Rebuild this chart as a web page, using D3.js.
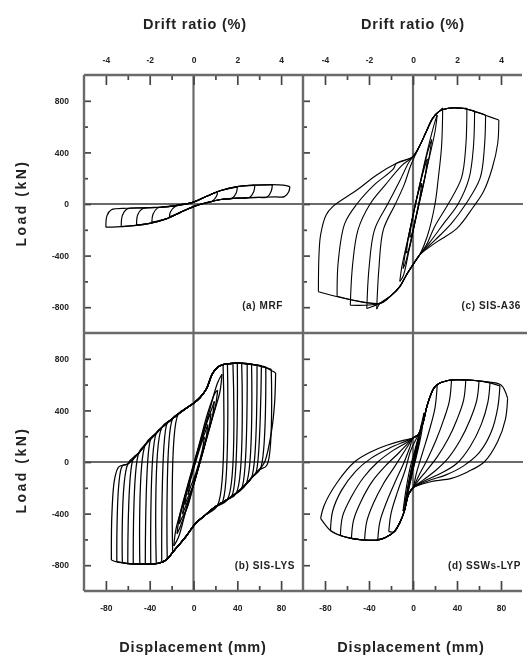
<!DOCTYPE html>
<html>
<head>
<meta charset="utf-8">
<script src="https://cdn.jsdelivr.net/npm/d3@7"></script>
<style>
  body { margin: 0; background: #fff; }
  svg { display: block; font-family: "Liberation Sans", Arial, sans-serif; }
</style>
</head>
<body>
<svg id="chart" width="527" height="655"></svg>
<script>
// Tick values
const driftTicks = [-4, -2, 0, 2, 4];
const driftMinor = [-3, -1, 1, 3];
const dispTicks = [-80, -40, 0, 40, 80];
const dispMinor = [-60, -20, 20, 60];
const loadTicks = [-800, -400, 0, 400, 800];
const loadMinor = [-600, -200, 200, 600];

// Each cycle: negative peak, own reloading points, positive peak, own unloading points.
// Branches then follow the shared envelope (where the cycles overlap). Displacement mm, load kN.

// (a) MRF
const mrfPeakNeg = [[-22, -100], [-38, -140], [-52, -162], [-66, -175], [-80, -180]];
const mrfPeakPos = [[22, 95], [40, 130], [56, 145], [72, 148], [88, 135]];
const mrfReload = [[[-21, -60], [-17, -22]], [[-37, -80], [-33, -32]], [[-51, -85], [-47, -38]],
                   [[-65, -90], [-61, -40]], [[-79, -90], [-75, -45]]];
const mrfUnload = [[[21, 60], [17, 22]], [[39, 85], [35, 43]], [[55, 95], [51, 50]],
                   [[71, 100], [67, 52]], [[87, 95], [83, 57]]];
const mrfUpperEnv = [[-60, -33], [-45, -30], [-30, -25], [-15, -10], [0, 15], [12, 60], [25, 105],
                     [40, 135], [55, 146], [72, 150], [82, 146]];
const mrfLowerEnv = [[75, 55], [60, 52], [40, 45], [25, 35], [12, 10], [0, -20], [-12, -65],
                     [-25, -115], [-40, -150], [-55, -168], [-70, -178]];

// (c) SIS-A36
const a36PeakNeg = [[-3, -260], [-6, -380], [-9, -500], [-12, -600], [-33, -815], [-42, -810],
                    [-57, -785], [-69, -715], [-86, -680]];
const a36PeakPos = [[8, 160], [13, 350], [17, 500], [22, 690], [27, 745], [49, 742],
                    [56, 720], [66, 690], [78, 651]];
const a36Reload = [
  [[-1, -130], [3, 30], [6, 120]],
  [[-4, -250], [1, -50], [6, 140], [11, 300]],
  [[-7, -380], [-1, -130], [6, 140], [12, 360], [15, 450]],
  [[-10, -480], [-3, -210], [5, 110], [13, 410], [19, 610]],
  [[-31, -500], [-27, -200], [-16, 0], [-8, 150], [-2, 300]],
  [[-40, -500], [-35, -200], [-23, 0], [-12, 180], [-4, 320]],
  [[-55, -480], [-50, -200], [-39, 0], [-25, 150], [-10, 300]],
  [[-68, -450], [-62, -150], [-51, 0], [-35, 150], [-18, 270]],
  [[-85.5, -400], [-84, -240], [-79, -85], [-73, -20]]
];
const a36Unload = [
  [[6, 40], [2, -120], [-1, -230]],
  [[11, 210], [6, 20], [1, -170], [-4, -360]],
  [[15, 380], [10, 180], [2, -130], [-4, -360], [-7, -460]],
  [[20, 560], [14, 330], [6, 20], [-2, -290], [-9, -560]],
  [[26, 450], [23, 200], [20, 0], [13, -250]],
  [[48, 450], [44, 200], [32, 0], [20, -170], [12, -320]],
  [[55, 450], [51, 200], [41, 0], [28, -150], [15, -300]],
  [[65, 450], [61, 200], [48, 0], [35, -150], [20, -280]],
  [[77, 469], [72, 277], [64, 95], [55, -21], [40, -189], [22, -292]]
];
const a36UpperEnv = [[-51, 108], [-33, 225], [-15, 315], [0, 367], [6, 450], [12, 560], [18, 666],
                     [24, 720], [32, 742], [45, 742], [55, 720], [65, 690]];
const a36LowerEnv = [[6, -395], [0, -470], [-6, -550], [-12, -640], [-20, -710], [-30, -770]];

// (b) SIS-LYS
const lysPeakNeg = [[-5, -255], [-8, -330], [-10, -405], [-13, -480], [-15, -555], [-18, -650],
                    [-19, -700], [-24, -750], [-29, -780], [-34, -790], [-39, -792], [-44, -792],
                    [-49, -790], [-55, -788], [-60, -785], [-65, -780], [-70, -772], [-75, -760]];
const lysPeakPos = [[10, 195], [13, 290], [16, 375], [19, 470], [22, 555], [26, 680],
                    [27, 752], [31, 760], [36, 765], [40, 767], [44, 766], [49, 764],
                    [53, 760], [58, 755], [62, 748], [66, 738], [71, 718], [75, 690]];
const lysReload = [
  [[-3, -150], [3, 30], [8, 160]],
  [[-6, -230], [0, -50], [6, 130], [11, 240]],
  [[-8, -290], [0, -40], [8, 210], [14, 350]],
  [[-11, -370], [-4, -150], [5, 120], [12, 300], [17, 420]],
  [[-13, -430], [-5, -170], [5, 130], [13, 380], [20, 540]],
  [[-16, -520], [-8, -280], [4, 75], [14, 380], [22, 615]],
  [[-14, 370]], [[-19, 337]], [[-24, 302]], [[-29, 266]], [[-34, 222]], [[-39, 180]],
  [[-44, 135]], [[-50, 70]], [[-55, 28]], [[-60, -15]], [[-65, -30]],
  [[-74.5, -400], [-72, -130], [-68, -36]]
];
const lysUnload = [
  [[8, 90], [2, -90], [-3, -200]],
  [[11, 160], [5, -30], [-1, -200], [-6, -290]],
  [[14, 260], [6, 0], [-2, -230], [-8, -360]],
  [[17, 340], [10, 120], [1, -150], [-6, -360], [-11, -440]],
  [[20, 430], [12, 190], [2, -120], [-7, -380], [-13, -520]],
  [[24, 540], [16, 310], [4, -45], [-6, -345], [-14, -590]],
  [[22, -335]], [[26, -318]], [[31, -290]], [[35, -265]], [[39, -243]], [[44, -205]],
  [[48, -171]], [[53, -122]], [[57, -85]], [[61, -55]], [[67, -25]],
  [[74, 450], [71, 225], [65, 0]]
];
const lysUpperEnv = [[-60, -15], [-50, 70], [-43, 145], [-35, 215], [-28, 274], [-20, 330], [-13, 377],
                     [-6, 420], [0, 455], [6, 500], [12, 570], [17, 680], [22, 735], [27, 755],
                     [40, 767], [55, 755], [66, 732], [72, 705]];
const lysLowerEnv = [[60, -60], [54, -114], [47, -180], [39, -243], [30, -295], [20, -346], [11, -410],
                     [2, -475], [-7, -579], [-13, -640], [-19, -700], [-25, -760], [-32, -785],
                     [-45, -792], [-60, -787], [-70, -775]];

// (d) SSWs-LYP
const sswPeakNeg = [[-3, -150], [-5, -250], [-7, -320], [-9, -380], [-22, -540], [-32, -600],
                    [-44, -605], [-56, -592], [-66, -570], [-75, -530], [-84, -437]];
const sswPeakPos = [[4, 130], [6, 220], [8, 300], [10, 380], [22, 597], [35, 636],
                    [48, 636], [60, 628], [70, 615], [79, 590], [86, 494]];
const sswReload = [
  [[-2, -80], [0, -10], [2, 60]],
  [[-3, -120], [0, 0], [3, 120]],
  [[-5, -200], [-1, -40], [3, 110], [6, 220]],
  [[-7, -250], [-3, -60], [2, 100], [6, 230]],
  [[-20, -400], [-14, -230], [-7, -60], [-2, 90]],
  [[-30, -460], [-24, -310], [-16, -150], [-8, 0], [-3, 110]],
  [[-42, -460], [-36, -320], [-27, -170], [-17, -40], [-5, 120]],
  [[-54, -450], [-47, -300], [-37, -150], [-25, -30], [-13, 70], [-5, 140]],
  [[-64, -420], [-56, -270], [-45, -120], [-32, 0], [-18, 90], [-6, 150]],
  [[-73, -380], [-65, -220], [-52, -70], [-38, 30], [-22, 105], [-7, 160]],
  [[-80.6, -333], [-68.5, -153], [-53, 2], [-38, 80], [-23, 132], [-8, 170]]
];
const sswUnload = [
  [[2, 40], [0, -30], [-1, -80]],
  [[4, 110], [1, -10], [-2, -130]],
  [[6, 180], [2, 20], [-2, -140], [-5, -250]],
  [[8, 240], [3, 40], [-2, -120], [-6, -260]],
  [[20, 420], [15, 250], [9, 80], [3, -90]],
  [[33, 470], [28, 330], [21, 170], [13, 20], [5, -110]],
  [[46, 480], [40, 330], [32, 180], [22, 40], [12, -70], [6, -130]],
  [[58, 480], [52, 330], [43, 170], [32, 30], [20, -70], [10, -135]],
  [[68, 460], [62, 290], [52, 120], [40, -10], [25, -90], [12, -140]],
  [[77, 420], [71, 230], [60, 70], [46, -30], [30, -100], [14, -145]],
  [[84, 330], [77, 158], [65, 2], [50, -75], [35, -127], [16, -153]]
];
const sswUpperEnv = [[0, 185], [5, 215], [9, 300], [13, 442], [19, 573], [24, 610], [35, 636],
                     [50, 636], [65, 623], [80, 597]];
const sswLowerEnv = [[0, -200], [-4, -250], [-8, -385], [-12, -470], [-17, -540], [-25, -585],
                     [-32, -605], [-45, -605], [-56, -592], [-66, -570], [-74, -540]];

// Scales
const xLeft = d3.scaleLinear().domain([-100, 100]).range([84, 303]);
const xRight = d3.scaleLinear().domain([-100, 100]).range([303, 523]);
const yTop = d3.scaleLinear().domain([-1000, 1000]).range([333, 75]);
const yBot = d3.scaleLinear().domain([-1000, 1000]).range([591, 333]);

const svg = d3.select('#chart');
svg.append('defs').append('filter').attr('id', 'scan')
  .append('feGaussianBlur').attr('stdDeviation', 0.65);
const root = svg.append('g').attr('filter', 'url(#scan)');

// One cycle = upper branch (neg peak -> pos peak) and lower branch (pos peak -> neg peak)
function buildLoop(neg, reload, pos, unload, upEnv, lowEnv) {
  const r = reload[reload.length - 1][0];
  const u = unload[unload.length - 1][0];
  const up = [neg, ...reload, ...upEnv.filter(p => p[0] > r + 2 && p[0] < pos[0] - 2), pos];
  const down = [pos, ...unload, ...lowEnv.filter(p => p[0] < u - 2 && p[0] > neg[0] + 2), neg];
  return [up, down];
}

const panels = [
  { x: xLeft, y: yTop, neg: mrfPeakNeg, pos: mrfPeakPos, reload: mrfReload, unload: mrfUnload,
    upEnv: mrfUpperEnv, lowEnv: mrfLowerEnv, width: 1.2, label: '(a) MRF', labelX: 283, labelY: 309 },
  { x: xRight, y: yTop, neg: a36PeakNeg, pos: a36PeakPos, reload: a36Reload, unload: a36Unload,
    upEnv: a36UpperEnv, lowEnv: a36LowerEnv, width: 1.1, label: '(c) SIS-A36', labelX: 521, labelY: 309 },
  { x: xLeft, y: yBot, neg: lysPeakNeg, pos: lysPeakPos, reload: lysReload, unload: lysUnload,
    upEnv: lysUpperEnv, lowEnv: lysLowerEnv, width: 1.25, label: '(b) SIS-LYS', labelX: 295, labelY: 569 },
  { x: xRight, y: yBot, neg: sswPeakNeg, pos: sswPeakPos, reload: sswReload, unload: sswUnload,
    upEnv: sswUpperEnv, lowEnv: sswLowerEnv, width: 1.15, label: '(d) SSWs-LYP', labelX: 521, labelY: 569 }
];

const grey = '#6a6a6a';

panels.forEach(p => {
  const g = root.append('g');
  const [x0, x1] = p.x.range();
  const [y1, y0] = p.y.range();

  // Zero lines
  g.append('line').attr('x1', p.x(0)).attr('x2', p.x(0)).attr('y1', y0).attr('y2', y1)
    .attr('stroke', grey).attr('stroke-width', 2.2);
  g.append('line').attr('x1', x0).attr('x2', x1).attr('y1', p.y(0)).attr('y2', p.y(0))
    .attr('stroke', grey).attr('stroke-width', 2.2);

  // Hysteresis loops
  const line = d3.line()
    .x(d => p.x(d[0]))
    .y(d => p.y(d[1]))
    .curve(d3.curveCatmullRom.alpha(0.5));
  p.neg.forEach((neg, i) => {
    buildLoop(neg, p.reload[i], p.pos[i], p.unload[i], p.upEnv, p.lowEnv).forEach(branch => {
      g.append('path')
        .attr('d', line(branch))
        .attr('fill', 'none')
        .attr('stroke', '#000')
        .attr('stroke-width', p.width);
    });
  });

  // Load ticks on the left edge of every panel
  const labelled = p.x === xLeft;
  g.append('g').attr('transform', 'translate(' + x0 + ',0)')
    .call(d3.axisLeft(p.y).tickValues(loadTicks).tickSize(-7).tickPadding(15)
      .tickFormat(d => labelled ? String(d) : ''));
  g.append('g').attr('transform', 'translate(' + x0 + ',0)')
    .call(d3.axisLeft(p.y).tickValues(loadMinor).tickSize(-4).tickFormat(''));

  // Panel label
  g.append('text')
    .attr('x', p.labelX).attr('y', p.labelY)
    .attr('text-anchor', 'end')
    .attr('font-size', 10).attr('font-weight', 'bold').attr('fill', '#222')
    .attr('letter-spacing', 0.6)
    .text(p.label);
});

// Drift ratio axes on top, displacement axes at the bottom
[xLeft, xRight].forEach(xs => {
  const drift = d3.scaleLinear().domain([-5, 5]).range(xs.range());
  root.append('g').attr('transform', 'translate(0,75)')
    .call(d3.axisTop(drift).tickValues(driftTicks).tickSize(-10).tickPadding(12).tickFormat(d => String(d)));
  root.append('g').attr('transform', 'translate(0,75)')
    .call(d3.axisTop(drift).tickValues(driftMinor).tickSize(-5).tickFormat(''));
  root.append('g').attr('transform', 'translate(0,591)')
    .call(d3.axisBottom(xs).tickValues(dispTicks).tickSize(-10).tickPadding(14).tickFormat(d => String(d)));
  root.append('g').attr('transform', 'translate(0,591)')
    .call(d3.axisBottom(xs).tickValues(dispMinor).tickSize(-5).tickFormat(''));
});

// Axis styling
root.selectAll('.domain').remove();
root.selectAll('.tick line').attr('stroke', '#444').attr('stroke-width', 1.7);
root.selectAll('.tick text')
  .attr('fill', '#222').attr('font-size', 8.5).attr('font-weight', 'bold')
  .attr('font-family', '"Liberation Sans", Arial, sans-serif');

// Frame
const frame = [
  [84, 75, 522, 75], [84, 591, 522, 591], [84, 75, 84, 591],
  [303, 75, 303, 591], [84, 333, 527, 333]
];
root.selectAll('line.frame').data(frame).enter().append('line')
  .attr('class', 'frame')
  .attr('x1', d => d[0]).attr('y1', d => d[1]).attr('x2', d => d[2]).attr('y2', d => d[3])
  .attr('stroke', grey).attr('stroke-width', 2.4);

// Axis titles
const titles = root.append('g')
  .attr('font-weight', 'bold').attr('fill', '#222').attr('text-anchor', 'middle');
titles.append('text').attr('x', 195).attr('y', 29).attr('font-size', 14.5).attr('letter-spacing', 0.8).text('Drift ratio (%)');
titles.append('text').attr('x', 413).attr('y', 29).attr('font-size', 14.5).attr('letter-spacing', 0.8).text('Drift ratio (%)');
titles.append('text').attr('x', 193).attr('y', 652).attr('font-size', 14.5).attr('letter-spacing', 0.8).text('Displacement (mm)');
titles.append('text').attr('x', 411).attr('y', 652).attr('font-size', 14.5).attr('letter-spacing', 0.8).text('Displacement (mm)');
titles.append('text').attr('transform', 'translate(26,203) rotate(-90)').attr('font-size', 14).attr('letter-spacing', 2.5).text('Load (kN)');
titles.append('text').attr('transform', 'translate(26,470) rotate(-90)').attr('font-size', 14).attr('letter-spacing', 2.5).text('Load (kN)');
</script>
</body>
</html>
